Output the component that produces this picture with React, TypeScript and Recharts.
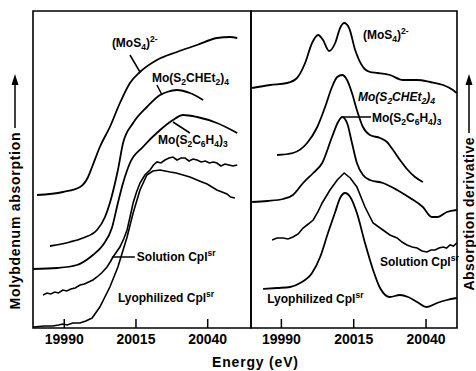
import React from 'react';
import { LineChart, Line, XAxis, YAxis, ReferenceArea, ReferenceDot, ReferenceLine } from 'recharts';

const FONT = '"Liberation Sans", Arial, sans-serif';

// Energy axis ticks (eV)
const energyTicks = [19990, 20015, 20040];
const leftDomain: [number, number] = [19979.1, 20055.1];
const rightDomain: [number, number] = [19979.5, 20050.7];
const yDomain: [number, number] = [0, 317];

// Left panel: Mo absorption (offset traces, arbitrary units) [eV, value]
const absMoS4: [number, number][] = [
  [19980.5, 133], [19989.5, 136], [19995.5, 141], [19998.3, 151], [19999.7, 161], [20002.4, 181],
  [20005.9, 201], [20009.4, 225], [20012.9, 245], [20016.4, 256], [20022.3, 268], [20029.3, 276],
  [20036.3, 283], [20043.2, 290], [20047.8, 291], [20050.3, 290],
];
const absMoDtc: [number, number][] = [
  [19985.0, 82], [19992.0, 86], [19996.5, 90], [20001.4, 98], [20004.2, 111], [20005.9, 125],
  [20007.7, 145], [20008.7, 158], [20010.5, 185], [20014.0, 205], [20018.8, 221], [20023.4, 233],
  [20025.8, 236], [20029.3, 238], [20033.8, 235], [20038.4, 228],
];
const absMoBdt: [number, number][] = [
  [19979.2, 59], [19987.5, 60], [19994.4, 63], [20000.0, 73], [20003.5, 83], [20006.6, 100],
  [20008.7, 125], [20010.5, 145], [20012.9, 165], [20017.4, 181], [20023.4, 198], [20027.9, 208],
  [20031.4, 213], [20036.3, 211], [20043.2, 205], [20050.3, 195],
];
const absSolution: [number, number][] = [
  [19982.6, 33], [19984.0, 35], [19985.3, 34], [19986.7, 36], [19988.0, 35], [19989.5, 38],
  [19990.9, 37], [19992.3, 39], [19993.8, 40], [19995.5, 43], [19997.0, 44], [19998.5, 46],
  [20000.0, 48], [20001.4, 51], [20003.0, 55], [20004.9, 61], [20006.0, 66], [20007.0, 71],
  [20008.2, 76], [20009.4, 81], [20010.7, 89], [20011.9, 98], [20013.0, 112], [20014.0, 125],
  [20015.2, 136], [20016.4, 145], [20018.1, 153], [20019.9, 158], [20021.1, 163], [20022.3, 166],
  [20023.7, 165], [20025.1, 168], [20026.5, 170], [20027.9, 171], [20029.3, 168], [20030.7, 170],
  [20032.1, 170], [20033.5, 167], [20034.9, 169], [20036.3, 168], [20037.7, 166], [20039.2, 167],
  [20040.6, 165], [20042.0, 166], [20043.2, 165], [20044.6, 162], [20046.0, 164], [20047.4, 163],
  [20048.8, 162], [20050.3, 163],
];
const absLyophilized: [number, number][] = [
  [19979.2, 1], [19983.0, 2], [19986.0, 2], [19988.0, 3], [19989.5, 4], [19991.0, 3], [19993.0, 5],
  [19995.5, 5], [19997.5, 7], [19999.7, 10], [20002.4, 21], [20005.9, 41], [20008.7, 61],
  [20011.9, 91], [20014.0, 115], [20016.4, 138], [20018.8, 153], [20020.9, 157], [20023.4, 158],
  [20026.9, 156], [20029.0, 155], [20031.4, 153], [20033.8, 151], [20036.3, 148], [20038.0, 146],
  [20039.8, 144], [20041.5, 141], [20043.2, 138], [20045.0, 136], [20046.7, 134], [20048.0, 131],
  [20049.5, 130],
];

// Right panel: absorption derivative (offset traces, arbitrary units) [eV, value]
const derMoS4: [number, number][] = [
  [19979.9, 240], [19986.1, 243], [19992.0, 245], [19995.4, 250], [19998.2, 265], [20000.6, 285],
  [20002.7, 293], [20004.4, 288], [20006.5, 277], [20008.6, 285], [20010.3, 300], [20011.7, 305],
  [20013.4, 300], [20015.5, 278], [20018.2, 261], [20020.6, 256], [20023.3, 255], [20027.5, 253],
  [20032.0, 248], [20036.9, 248], [20041.4, 246], [20045.9, 243], [20049.3, 238], [20050.6, 235],
];
const derMoDtc: [number, number][] = [
  [19988.5, 173], [19994.0, 175], [19998.9, 185], [20002.4, 201], [20005.1, 221], [20007.5, 241],
  [20009.3, 251], [20011.0, 253], [20012.7, 248], [20014.4, 235], [20016.1, 218], [20018.2, 201],
  [20020.6, 193], [20024.1, 190], [20026.5, 186], [20028.6, 178], [20031.0, 168], [20033.4, 159],
  [20036.2, 151], [20038.9, 146],
];
const derMoBdt: [number, number][] = [
  [19979.9, 126], [19985.1, 127], [19990.6, 129], [19994.0, 133], [19997.5, 145], [20001.0, 155],
  [20004.1, 165], [20007.5, 191], [20009.6, 206], [20011.0, 211], [20012.7, 205], [20014.4, 185],
  [20016.1, 165], [20018.2, 153], [20020.6, 148], [20025.1, 145], [20030.0, 138], [20034.5, 130],
  [20038.9, 121], [20042.0, 111], [20044.1, 111], [20047.2, 116], [20050.6, 118],
];
const derSolution: [number, number][] = [
  [19986.8, 88], [19988.5, 90], [19990.6, 90], [19992.3, 89], [19994.0, 91], [19995.8, 94],
  [19997.5, 100], [19999.3, 104], [20001.0, 108], [20002.6, 116], [20004.1, 125], [20006.8, 138],
  [20009.3, 148], [20011.7, 155], [20013.8, 150], [20016.1, 141], [20018.9, 121], [20021.7, 105],
  [20025.1, 98], [20027.5, 93], [20030.0, 90], [20031.7, 86], [20033.4, 83], [20035.2, 81],
  [20036.9, 80], [20038.6, 77], [20040.3, 76], [20041.7, 78], [20043.1, 78], [20044.5, 80],
  [20045.9, 81], [20047.1, 80], [20048.3, 83], [20049.5, 82], [20050.6, 85],
];
const derLyophilized: [number, number][] = [
  [19983.7, 39], [19988.5, 40], [19993.0, 41], [19996.5, 45], [20000.6, 55], [20003.4, 71],
  [20006.1, 95], [20008.6, 116], [20010.3, 130], [20012.0, 135], [20013.8, 131], [20016.1, 115],
  [20018.9, 85], [20021.7, 58], [20024.1, 40], [20027.5, 31], [20031.0, 33], [20033.8, 31],
  [20036.9, 26], [20040.3, 21], [20043.8, 25], [20047.2, 28], [20050.6, 30],
];

type Part = [string, 'n' | 'sub' | 'sup'];
const lblMoS4: Part[] = [['(MoS', 'n'], ['4', 'sub'], [')', 'n'], ['2-', 'sup']];
const lblMoDtc: Part[] = [['Mo(S', 'n'], ['2', 'sub'], ['CHEt', 'n'], ['2', 'sub'], [')', 'n'], ['4', 'sub']];
const lblMoBdt: Part[] = [['Mo(S', 'n'], ['2', 'sub'], ['C', 'n'], ['6', 'sub'], ['H', 'n'], ['4', 'sub'], [')', 'n'], ['3', 'sub']];
const lblSolution: Part[] = [['Solution Cpl', 'n'], ['sr', 'sup']];
const lblLyophilized: Part[] = [['Lyophilized Cpl', 'n'], ['sr', 'sup']];

const rows = (pts: [number, number][]) => pts.map(([e, v]) => ({ e, v }));

const ChemText = ({ x, y, parts, italic }: { x: number; y: number; parts: Part[]; italic?: boolean }) => {
  let cur = 0;
  return (
    <text x={x} y={y} fontFamily={FONT} fontWeight={700} fontSize={12} fill="#000" fontStyle={italic ? 'italic' : 'normal'}>
      {parts.map(([t, k], i) => {
        const target = k === 'sub' ? 3 : k === 'sup' ? -5 : 0;
        const dy = target - cur;
        cur = target;
        return (
          <tspan key={i} dy={dy} fontSize={k === 'n' ? 12 : 8.5}>
            {t}
          </tspan>
        );
      })}
    </text>
  );
};

const labelDot = (e: number, v: number, parts: Part[], italic?: boolean) => (
  <ReferenceDot
    x={e}
    y={v}
    r={0}
    isFront
    shape={(p: any) => <ChemText x={p.cx} y={p.cy} parts={parts} italic={italic} />}
  />
);

const AxisTick = (props: any) => {
  const { x, y, payload } = props;
  return (
    <g>
      <line x1={x} x2={x} y1={y} y2={y - 9} stroke="#000" strokeWidth={1.5} />
      <text x={x} y={y + 16} textAnchor="middle" fontFamily={FONT} fontWeight={700} fontSize={14} fill="#000">
        {payload.value}
      </text>
    </g>
  );
};

const lineProps = {
  dataKey: 'v',
  stroke: '#000',
  strokeWidth: 1.8,
  dot: false,
  isAnimationActive: false,
  type: 'monotone' as const,
};

const Panel = ({ domain, children, width, margin }: any) => (
  <LineChart width={width} height={371} margin={margin}>
    <XAxis
      type="number"
      dataKey="e"
      domain={domain}
      ticks={energyTicks}
      allowDataOverflow
      tickLine={false}
      axisLine={false}
      tickSize={0}
      tickMargin={0}
      height={30}
      interval={0}
      tick={(p: any) => <AxisTick {...p} />}
    />
    <YAxis hide type="number" domain={yDomain} allowDataOverflow />
    <ReferenceArea x1={domain[0]} x2={domain[1]} y1={yDomain[0]} y2={yDomain[1]} fill="none" stroke="#000" strokeWidth={1.6} />
    {children}
  </LineChart>
);

export default function App() {
  return (
    <div style={{ position: 'absolute', left: 0, top: 0, width: 476, height: 371, background: '#fff' }}>
      <div style={{ position: 'absolute', left: 0, top: 0 }}>
        <Panel domain={leftDomain} width={260} margin={{ top: 11, right: 9, bottom: 13, left: 33 }}>
          <Line {...lineProps} data={rows(absMoS4)} />
          <Line {...lineProps} data={rows(absMoDtc)} />
          <Line {...lineProps} data={rows(absMoBdt)} />
          <Line {...lineProps} type="linear" strokeWidth={1.6} data={rows(absSolution)} />
          <Line {...lineProps} type="linear" strokeWidth={1.6} data={rows(absLyophilized)} />
          <ReferenceLine segment={[{ x: 20012.9, y: 273 }, { x: 20016.4, y: 256 }]} stroke="#000" strokeWidth={1.5} />
          <ReferenceLine segment={[{ x: 20022.3, y: 243 }, { x: 20024.1, y: 233 }]} stroke="#000" strokeWidth={1.5} />
          <ReferenceLine segment={[{ x: 20027.9, y: 206 }, { x: 20033.8, y: 195 }]} stroke="#000" strokeWidth={1.5} />
          <ReferenceLine segment={[{ x: 20006.6, y: 71 }, { x: 20014.6, y: 71 }]} stroke="#000" strokeWidth={1.5} />
          {labelDot(20006.6, 281, lblMoS4)}
          {labelDot(20020.6, 246, lblMoDtc)}
          {labelDot(20022.7, 184, lblMoBdt)}
          {labelDot(20015.3, 67, lblSolution)}
          {labelDot(20008.7, 26, lblLyophilized)}
        </Panel>
      </div>
      <div style={{ position: 'absolute', left: 245, top: 0 }}>
        <Panel domain={rightDomain} width={231} margin={{ top: 11, right: 19, bottom: 13, left: 6 }}>
          <Line {...lineProps} data={rows(derMoS4)} />
          <Line {...lineProps} data={rows(derMoDtc)} />
          <Line {...lineProps} data={rows(derMoBdt)} />
          <Line {...lineProps} type="linear" strokeWidth={1.6} data={rows(derSolution)} />
          <Line {...lineProps} data={rows(derLyophilized)} />
          <ReferenceLine segment={[{ x: 20011.3, y: 211 }, { x: 20021.0, y: 211 }]} stroke="#000" strokeWidth={1.5} />
          {labelDot(20018.2, 289, lblMoS4)}
          {labelDot(20016.5, 227, lblMoDtc, true)}
          {labelDot(20021.3, 206, lblMoBdt)}
          {labelDot(20024.1, 62, lblSolution)}
          {labelDot(19985.1, 25, lblLyophilized)}
        </Panel>
      </div>
      <svg width={476} height={371} style={{ position: 'absolute', left: 0, top: 0, pointerEvents: 'none' }}>
        <text
          transform="translate(20,221) rotate(-90)"
          textAnchor="middle"
          fontFamily={FONT}
          fontWeight={700}
          fontSize={14}
          textLength={177}
          lengthAdjust="spacing"
        >
          Molybdenum absorption
        </text>
        <line x1={15} x2={15} y1={128} y2={82} stroke="#000" strokeWidth={1.5} />
        <polygon points="15,74 11.5,85 18.5,85" fill="#000" />
        <text
          transform="translate(474,214) rotate(-90)"
          textAnchor="middle"
          fontFamily={FONT}
          fontWeight={700}
          fontSize={14}
          textLength={153}
          lengthAdjust="spacing"
        >
          Absorption derivative
        </text>
        <line x1={469} x2={469} y1={133} y2={85} stroke="#000" strokeWidth={1.5} />
        <polygon points="469,74 465.5,85 472.5,85" fill="#000" />
        <text x={255} y={367} textAnchor="middle" fontFamily={FONT} fontWeight={700} fontSize={14} textLength={86} lengthAdjust="spacing">
          Energy (eV)
        </text>
      </svg>
    </div>
  );
}
